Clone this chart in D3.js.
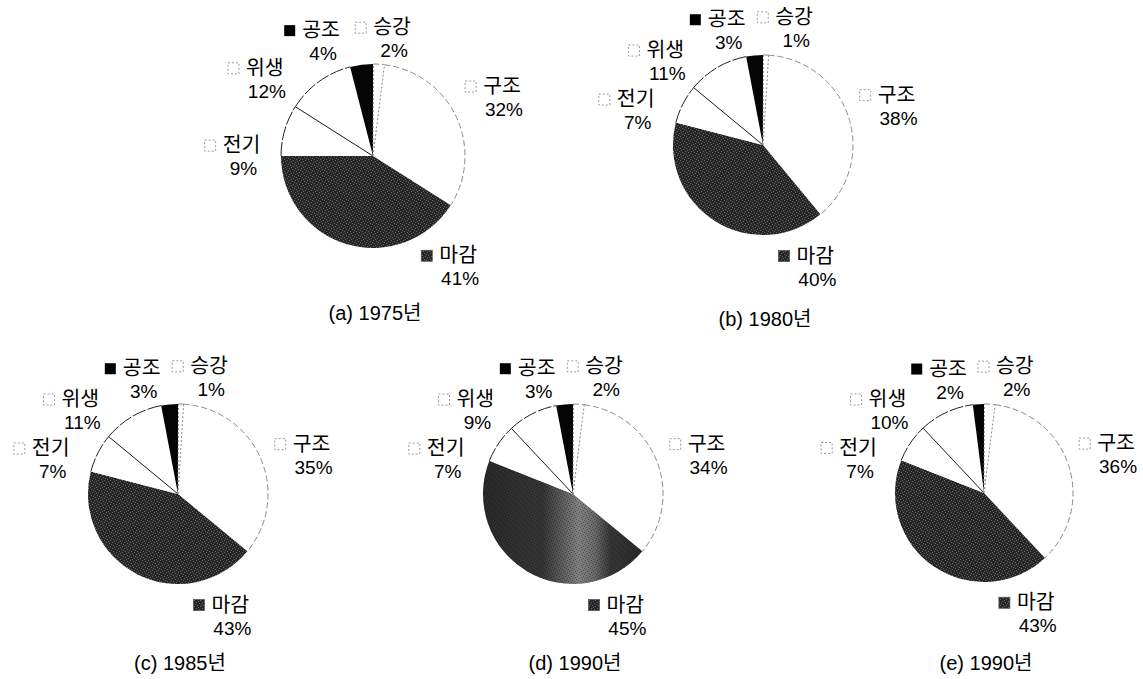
<!DOCTYPE html>
<html><head><meta charset="utf-8">
<script src="https://cdn.jsdelivr.net/npm/d3@7"></script>
<style>
html,body{margin:0;padding:0;background:#fff;}
svg text{font-family:"Liberation Sans","Noto Sans CJK KR",Arial,sans-serif;font-size:19px;fill:#000;}
svg text.name{font-size:20.5px;}
svg text.cap{font-size:20px;}
</style></head><body>
<svg id="chart" width="1143" height="679"></svg>
<script>
// ---- data ----
const categories = ["승강","구조","마감","전기","위생","공조"];
const captions   = ["(a) 1975년","(b) 1980년","(c) 1985년","(d) 1990년","(e) 1990년"];
const values1975  = [2,32,41,9,12,4];
const values1980  = [1,38,40,7,11,3];
const values1985  = [1,35,43,7,11,3];
const values1990d = [2,34,45,7,9,3];
const values1990e = [2,36,43,7,10,2];

// ---- layout (positions / styles, separate from data) ----
// label placement: polar angle (deg, clockwise from top) and distance factor of radius
const labelLayoutA = {"승강":[8.9,1.34],"구조":[64,1.56],"마감":[141.3,1.48],"전기":[271.7,1.43],"위생":[306.9,1.47],"공조":[336.4,1.41]};
const labelLayoutB = {"승강":[14.4,1.39],"구조":[72,1.56],"마감":[156,1.43],"전기":[287,1.48],"위생":[312,1.46],"공조":[343,1.38]};
const panels = [
  {values: values1975,  caption: captions[0], cx:373, cy:156, r:92, capY:320, layout: labelLayoutA, band:false},
  {values: values1980,  caption: captions[1], cx:763, cy:145, r:90, capY:326, layout: labelLayoutB, band:false},
  {values: values1985,  caption: captions[2], cx:178, cy:494, r:90, capY:670, layout: labelLayoutB, band:false},
  {values: values1990d, caption: captions[3], cx:573, cy:494, r:90, capY:670, layout: labelLayoutB, band:true},
  {values: values1990e, caption: captions[4], cx:984, cy:493, r:89, capY:670, layout: labelLayoutB, band:false}
];
const darkCat = "마감", blackCat = "공조";

const svg = d3.select("#chart");
svg.append("rect").attr("width",1143).attr("height",679).attr("fill","#fff");

// halftone patterns
const defs = svg.append("defs");
const pat = defs.append("pattern").attr("id","ht").attr("width",6).attr("height",6).attr("patternUnits","userSpaceOnUse");
pat.append("rect").attr("width",6).attr("height",6).attr("fill","#262626");
const dots = [[0,0],[3,1],[1,3],[4,4],[2,5],[5,2]];
dots.forEach(([x,y])=>pat.append("rect").attr("x",x).attr("y",y).attr("width",1).attr("height",1).attr("fill","#666"));
const pat2 = defs.append("pattern").attr("id","htDots").attr("width",6).attr("height",6).attr("patternUnits","userSpaceOnUse");
dots.forEach(([x,y])=>pat2.append("rect").attr("x",x).attr("y",y).attr("width",1).attr("height",1).attr("fill","#000").attr("opacity",0.35));
const grad = defs.append("linearGradient").attr("id","band").attr("x1","0").attr("x2","1").attr("y1","0").attr("y2","0");
[[0,"#2a2a2a"],[0.38,"#363636"],[0.5,"#5e5e5e"],[0.6,"#808080"],[0.7,"#6a6a6a"],[0.8,"#363636"],[1,"#2a2a2a"]]
  .forEach(([o,c])=>grad.append("stop").attr("offset",o).attr("stop-color",c));

const pie = d3.pie().sort(null).value(d=>d.v);

panels.forEach(p=>{
  const data = categories.map((c,i)=>({c, v:p.values[i]}));
  const arcs = pie(data);
  const arc = d3.arc().innerRadius(0).outerRadius(p.r);
  const g = svg.append("g").attr("transform",`translate(${p.cx},${p.cy})`);

  // slices
  g.selectAll("path.slice").data(arcs).join("path")
    .attr("class","slice")
    .attr("d",arc)
    .attr("fill",d=> d.data.c===blackCat ? "#050505" : d.data.c===darkCat ? (p.band ? "url(#band)" : "url(#ht)") : "#fff");
  if(p.band){
    g.selectAll("path.dots").data(arcs.filter(d=>d.data.c===darkCat)).join("path")
      .attr("d",arc).attr("fill","url(#htDots)");
  }

  // outer outline over white slices (dashed grey, like the scan)
  arcs.filter(d=>d.data.c!==darkCat && d.data.c!==blackCat).forEach(d=>{
    const pth = d3.path();
    pth.arc(0,0,p.r,d.startAngle-Math.PI/2,d.endAngle-Math.PI/2);
    const solid = (d.data.c==="전기"||d.data.c==="위생");
    g.append("path").attr("d",pth.toString()).attr("fill","none")
      .attr("stroke", solid ? "#222" : "#8a8a8a")
      .attr("stroke-width", 1)
      .attr("stroke-dasharray", solid ? "14,2" : "6,3");
  });

  // radial separators
  const radial = (a, stroke, dash)=>{
    g.append("line").attr("x1",0).attr("y1",0)
      .attr("x2",p.r*Math.sin(a)).attr("y2",-p.r*Math.cos(a))
      .attr("stroke",stroke).attr("stroke-width",1).attr("stroke-dasharray",dash);
  };
  const byCat = Object.fromEntries(arcs.map(d=>[d.data.c,d]));
  radial(byCat["전기"].endAngle, "#1a1a1a", null);
  radial(byCat["승강"].endAngle, "#888", "2,2");
  radial(byCat["승강"].startAngle+0.006, "#999", "2,2");

  // labels
  arcs.forEach(d=>{
    const [ang, f] = p.layout[d.data.c];
    const a = ang*Math.PI/180, dist = f*p.r;
    const x = dist*Math.sin(a), y = -dist*Math.cos(a);
    const name = g.append("text").attr("class","name").attr("x",x).attr("y",y).attr("text-anchor","middle").text(d.data.c);
    g.append("text").attr("x",x+2).attr("y",y+23).attr("text-anchor","middle").text(d.data.v+"%");
    const w = name.node().getComputedTextLength();
    const kx = x - w/2 - 18, ky = y - 12;
    const key = g.append("rect").attr("x",kx).attr("y",ky).attr("width",11).attr("height",11);
    if(d.data.c===blackCat) key.attr("fill","#000");
    else if(d.data.c===darkCat) key.attr("fill","url(#ht)").attr("stroke","#555").attr("stroke-width",0.8);
    else key.attr("fill","#fff").attr("stroke","#9a9a9a").attr("stroke-width",1).attr("stroke-dasharray","2,2");
  });

  // caption
  svg.append("text").attr("class","cap").attr("x",p.cx+2).attr("y",p.capY).attr("text-anchor","middle").text(p.caption);
});
</script>
</body></html>
